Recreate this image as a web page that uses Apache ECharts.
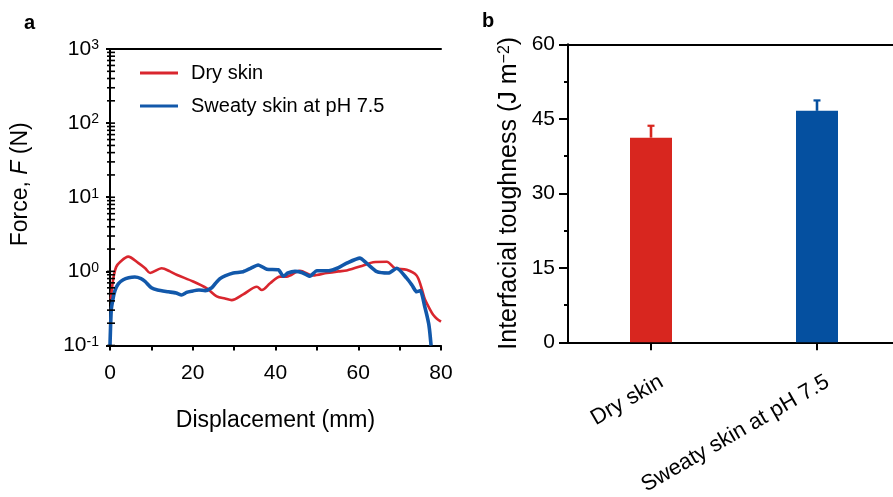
<!DOCTYPE html>
<html>
<head>
<meta charset="utf-8">
<script src="https://cdn.jsdelivr.net/npm/echarts@6/dist/echarts.min.js"></script>
<style>
  html, body { margin: 0; padding: 0; background: #fff; }
  #chart { width: 893px; height: 497px; }
</style>
</head>
<body>
<div id="chart"></div>
<script>
// Panel a: peel force vs displacement (log scale)
const dryX = [0.2, 0.8, 1.5, 2.5, 4.4, 6.8, 8.5, 9.7, 12.5, 14.5, 16.1, 20.1, 23.4, 25.8, 27.8, 29.4, 32.2, 35.5, 36.7, 38.7, 41.1, 42.7, 45.9, 49.1, 52.4, 55.2, 57.2, 61.2, 63.6, 66.9, 68.9, 71.7, 74.1, 75.2, 76.1, 77.3, 78.1, 79.0, 80.0];
const dryF = [0.42, 0.8, 1.15, 1.35, 1.58, 1.3, 1.1, 0.95, 1.1, 1.0, 0.9, 0.73, 0.59, 0.46, 0.43, 0.41, 0.49, 0.62, 0.56, 0.69, 0.85, 0.85, 1.02, 0.88, 0.95, 1.0, 1.03, 1.2, 1.33, 1.35, 1.1, 1.05, 0.88, 0.62, 0.42, 0.31, 0.26, 0.23, 0.21];
const sweatX = [0.0, 0.3, 0.7, 1.2, 2.0, 3.2, 4.5, 6.0, 7.5, 8.5, 10.0, 11.5, 14.1, 16.0, 17.3, 18.5, 19.7, 21.5, 23.0, 24.6, 25.6, 26.6, 27.8, 29.8, 32.2, 34.0, 35.8, 37.9, 40.7, 41.9, 43.0, 44.7, 46.5, 48.3, 50.0, 52.8, 55.2, 57.2, 60.4, 62.0, 64.5, 67.3, 69.3, 71.7, 73.0, 74.1, 75.0, 76.1, 77.0, 77.3, 77.6];
const sweatF = [0.1, 0.3, 0.42, 0.55, 0.68, 0.77, 0.82, 0.84, 0.8, 0.73, 0.6, 0.56, 0.53, 0.51, 0.48, 0.52, 0.54, 0.56, 0.55, 0.6, 0.7, 0.8, 0.87, 0.95, 0.99, 1.1, 1.22, 1.07, 1.05, 0.86, 0.95, 1.0, 0.96, 0.86, 1.02, 1.02, 1.12, 1.29, 1.51, 1.29, 0.99, 0.95, 1.1, 0.81, 0.65, 0.53, 0.55, 0.33, 0.2, 0.15, 0.1];
const seriesNames = ['Dry skin', 'Sweaty skin at pH 7.5'];

// Panel b: interfacial toughness
const barCategories = ['Dry skin', 'Sweaty skin at pH 7.5'];
const barValues = [41.2, 46.6];
const barErrors = [2.4, 2.1];

const RED = '#d8261f';
const BLUE = '#0550a0';
const LINE_RED = '#d9262e';
const LINE_BLUE = '#1258aa';
const FONT = '"Liberation Sans", Arial, sans-serif';

const zip = (xs, ys) => xs.map((x, i) => [x, ys[i]]);

// 1..9 x 10^n positions for the log ticks of panel a
const logTicks = [];
for (let e = -1; e <= 2; e++) {
  for (let m = 1; m <= 9; m++) logTicks.push(+(m * Math.pow(10, e)).toPrecision(3));
}
logTicks.push(1000);

const chart = echarts.init(document.getElementById('chart'), null, { renderer: 'canvas' });

const axisLine = { show: true, lineStyle: { color: '#000', width: 2 } };
const noTick = { show: false };
const noLabel = { show: false };
const noSplit = { show: false };

chart.setOption({
  animation: false,
  backgroundColor: '#fff',
  textStyle: { fontFamily: FONT, color: '#000' },
  graphic: [
    { type: 'text', left: 24, top: 13, style: { text: 'a', font: 'bold 20px ' + FONT, fill: '#000' } },
    { type: 'text', left: 482, top: 11, style: { text: 'b', font: 'bold 20px ' + FONT, fill: '#000' } }
  ],
  grid: [
    { left: 110, top: 49, width: 331, height: 296.5, outerBoundsMode: 'none', containLabel: false },
    { left: 568, top: 44.3, width: 332, height: 298, outerBoundsMode: 'none', containLabel: false }
  ],
  legend: {
    data: seriesNames,
    orient: 'vertical',
    left: 135,
    top: 58,
    itemWidth: 38,
    itemHeight: 14,
    itemGap: 13,
    icon: 'path://M0,0 L38,0 L38,3 L0,3 Z',
    textStyle: { fontSize: 20, color: '#000', fontFamily: FONT, padding: [0, 0, 0, 8] }
  },
  xAxis: [
    {
      gridIndex: 0, type: 'value', min: 0, max: 80, interval: 20,
      axisLine: axisLine,
      axisTick: { show: true, inside: false, length: 5, lineStyle: { width: 2, color: '#000' } },
      minorTick: { show: true, splitNumber: 2, length: 5, lineStyle: { width: 2, color: '#000' } },
      axisLabel: { fontSize: 21, color: '#000', margin: 17, fontFamily: FONT },
      splitLine: noSplit,
      name: 'Displacement (mm)', nameLocation: 'middle', nameGap: 64,
      nameTextStyle: { fontSize: 23, color: '#000', fontFamily: FONT }
    },
    {
      gridIndex: 0, type: 'value', position: 'top', min: 0, max: 80,
      axisLine: axisLine, axisTick: noTick, axisLabel: noLabel, splitLine: noSplit
    },
    {
      gridIndex: 1, type: 'category', data: barCategories,
      axisLine: axisLine,
      axisTick: { show: true, alignWithLabel: true, length: 8, lineStyle: { width: 2, color: '#000' } },
      axisLabel: {
        interval: 0, rotate: 30, fontSize: 22, color: '#000', fontFamily: FONT,
        margin: 20, lineHeight: 42,
        formatter: v => '\n' + v
      }
    },
    {
      gridIndex: 1, type: 'category', position: 'top', data: barCategories,
      axisLine: axisLine, axisTick: noTick, axisLabel: noLabel
    }
  ],
  yAxis: [
    {
      gridIndex: 0, type: 'log', logBase: 10, min: 0.1, max: 1000, splitNumber: 4,
      axisLine: axisLine,
      axisTick: { show: true, inside: false, length: 4, lineStyle: { width: 2, color: '#000' } },
      axisLabel: {
        margin: 11, color: '#000', fontFamily: FONT,
        formatter: v => '{b|10}{s|' + Math.round(Math.log10(v)) + '}',
        rich: {
          b: { fontSize: 21, fontFamily: FONT, color: '#000' },
          s: { fontSize: 14, fontFamily: FONT, color: '#000', verticalAlign: 'top', lineHeight: 12 }
        }
      },
      splitLine: noSplit,
      name: '{n|Force, }{i|F}{n| (N)}', nameLocation: 'middle', nameGap: 78,
      nameTextStyle: {
        padding: [0, 0, 0, 26],
        rich: {
          n: { fontSize: 23, fontFamily: FONT, color: '#000' },
          i: { fontSize: 23, fontFamily: FONT, color: '#000', fontStyle: 'italic' }
        }
      }
    },
    {
      gridIndex: 0, type: 'log', logBase: 10, min: 0.1, max: 1000, position: 'right',
      axisLine: axisLine, axisTick: noTick, axisLabel: noLabel, splitLine: noSplit
    },
    {
      gridIndex: 1, type: 'value', min: 0, max: 60, interval: 15,
      axisLine: axisLine,
      axisTick: { show: true, inside: false, length: 9, lineStyle: { width: 2, color: '#000' } },
      minorTick: { show: true, splitNumber: 2, length: 4, lineStyle: { width: 2, color: '#000' } },
      axisLabel: { fontSize: 21, color: '#000', margin: 13, fontFamily: FONT },
      splitLine: noSplit,
      name: '{n|Interfacial toughness (J m}{s|−2}{n|)}', nameLocation: 'middle', nameGap: 46,
      nameTextStyle: {
        rich: {
          n: { fontSize: 25, fontFamily: FONT, color: '#000' },
          s: { fontSize: 16, fontFamily: FONT, color: '#000', verticalAlign: 'top', lineHeight: 14 }
        }
      }
    }
  ],
  series: [
    {
      name: seriesNames[0], type: 'line', xAxisIndex: 0, yAxisIndex: 0,
      data: zip(dryX, dryF), symbol: 'none', smooth: 0.3,
      lineStyle: { color: LINE_RED, width: 2.6 }, itemStyle: { color: LINE_RED }, z: 3
    },
    {
      name: seriesNames[1], type: 'line', xAxisIndex: 0, yAxisIndex: 0,
      data: zip(sweatX, sweatF), symbol: 'none', smooth: 0.2,
      lineStyle: { color: LINE_BLUE, width: 3.6 }, itemStyle: { color: LINE_BLUE }, z: 4
    },
    {
      // crossing log ticks along the left axis of panel a
      type: 'custom', xAxisIndex: 0, yAxisIndex: 0, silent: true, clip: false,
      data: logTicks.map(v => [0, v]),
      renderItem: (params, api) => {
        const p = api.coord([0, api.value(1)]);
        return {
          type: 'line',
          shape: { x1: p[0] - 3, y1: p[1], x2: p[0] + 5, y2: p[1] },
          style: { stroke: '#000', lineWidth: 1.6 }
        };
      },
      z: 5
    },
    {
      type: 'bar', xAxisIndex: 2, yAxisIndex: 2, barWidth: 42,
      data: barValues.map((v, i) => ({ value: v, itemStyle: { color: i === 0 ? RED : BLUE } })),
      z: 3
    },
    {
      type: 'custom', xAxisIndex: 2, yAxisIndex: 2,
      data: barValues.map((v, i) => [i, v, barErrors[i]]),
      renderItem: (params, api) => {
        const base = api.coord([api.value(0), api.value(1)]);
        const top = api.coord([api.value(0), api.value(1) + api.value(2)]);
        const c = api.value(0) === 0 ? RED : BLUE;
        return {
          type: 'group',
          children: [
            { type: 'line', shape: { x1: base[0], y1: base[1], x2: base[0], y2: top[1] }, style: { stroke: c, lineWidth: 2.6 } },
            { type: 'line', shape: { x1: base[0] - 3.5, y1: top[1], x2: base[0] + 3.5, y2: top[1] }, style: { stroke: c, lineWidth: 2.2 } }
          ]
        };
      },
      z: 2
    }
  ]
});
</script>
</body>
</html>
